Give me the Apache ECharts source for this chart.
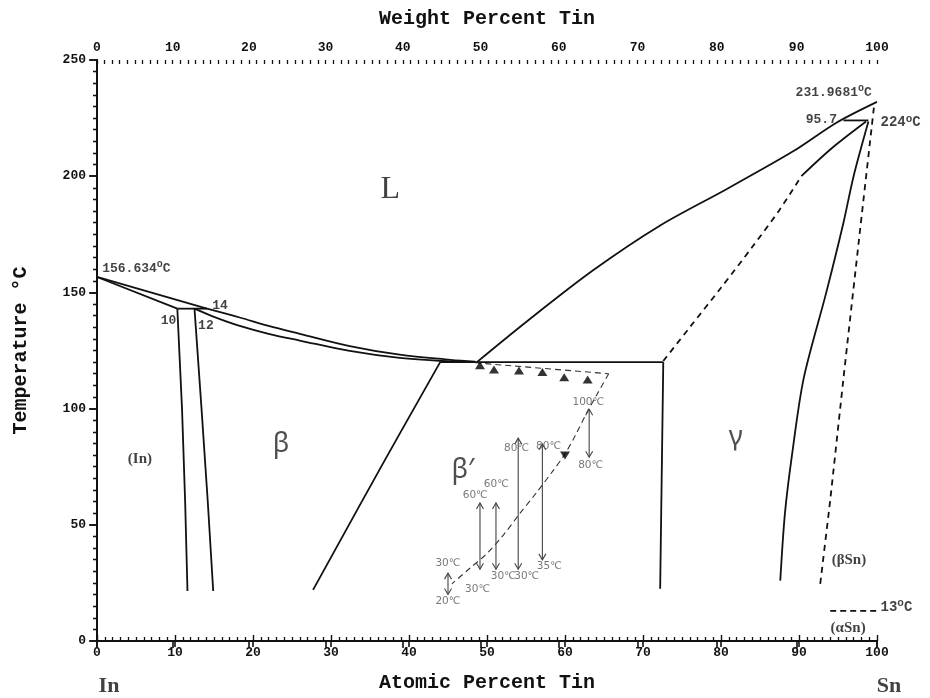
<!DOCTYPE html>
<html><head><meta charset="utf-8">
<script src="https://cdn.jsdelivr.net/npm/echarts@6/dist/echarts.min.js"></script>
<style>html,body{margin:0;padding:0;background:#fff}#c{width:930px;height:698px}</style>
</head><body><div id="c"></div>
<script>
// ---------------- data (atomic % Sn, temperature °C) ----------------
const weightTicks = [0,10,20,30,40,50,60,70,80,90,100];
const weightMinorStep = 1;
const massIn = 114.82, massSn = 118.71;

const inLiquidus = [[0,156.634],[14.1,143.0]];
const inSolidus = [[0,156.634],[10.3,143.0]];
const peritectic143 = [[10.3,143.0],[14.1,143.0]];
const betaLiquidus = [[14.1,143.0],[18.3,139.2],[22,135.6],[26,132.2],[32.4,126.9],[38.8,123.2],[45.3,121.0],[48.5,120.2]];
const betaSolidus = [[12.5,143.0],[15,139.5],[18.3,135.6],[22,132.2],[26,129.3],[32.4,124.8],[38.8,121.8],[45.3,120.3],[48.5,120.0]];
const inSolvus = [[10.3,143.0],[10.9,100],[11.3,60],[11.6,21.5]];
const betaLeft = [[12.5,143.0],[13.4,100],[14.2,60],[14.9,21.5]];
const betaRight = [[44.0,120.0],[36.6,76.0],[27.7,22.0]];
const eutectic120 = [[44.0,120.0],[72.6,120.0]];
const gammaLeft = [[72.6,120.0],[72.2,22.5]];
const snLiquidus = [[48.7,120.0],[55.1,137.5],[63.6,159.5],[72.2,178.8],[80.7,194.4],[89.3,210.8],[94.8,223.0],[100,231.9681]];
const gammaSolidusSolid = [[90.3,200.0],[94.2,212.0],[98.6,223.5]];
const gammaSolidusDashed = [[72.6,120.5],[76,135],[80,152],[84,169.5],[87.5,185.5],[90.3,200.0]];
const gammaRight = [[98.9,223.5],[97.0,200],[95.7,180],[93.5,150],[90.6,113],[89.1,80],[88.2,55],[87.6,26]];
const betaSnSolvus = [[99.6,229.5],[97.7,173],[95.7,113],[94.0,60.6],[92.7,24]];
const peritectic224 = [[95.7,224.0],[98.9,224.0]];
const alphaBeta13 = [[94.0,13.0],[100,13.0]];

// experimental annotations
const triangleLine = [[48.5,119.7],[65.6,115.0]];
const transitionCurve = [[65.6,115.0],[64.1,106.1],[62.8,98.3],[61.3,88.3],[60.0,80.5],[58.5,73.4],[56.4,64.1],[54.2,54.8],[52.1,45.6],[50.0,37.7],[47.8,31.3],[45.5,24.6]];
const upTriangles = [[49.1,118.7],[50.9,116.8],[54.1,116.4],[57.1,115.8],[59.9,113.5],[62.9,112.5]];
const downTriangles = [[60.0,79.8]];
const arrows = [[45.0,29.2,20.0],[49.1,59.4,30.9],[51.15,59.4,30.9],[54.0,87.3,30.9],[57.1,84.8,34.9],[63.1,99.7,79.1]];
const tempLabels = [[45.0,33.5,'30℃'],[45.0,17.1,'20℃'],[48.5,62.7,'60℃'],[48.8,22.2,'30℃'],[51.2,67.6,'60℃'],[52.1,27.8,'30℃'],[53.8,83.0,'80℃'],[55.1,27.8,'30℃'],[57.9,83.6,'80℃'],[58.0,32.1,'35℃'],[63.0,102.6,'100℃'],[63.3,75.5,'80℃']];

// text labels
const phaseLabels = [[23.6,84.6,'β'],[46.9,73.5,'β′'],[81.9,87.6,'γ']];
const liquidLabels = [[37.6,194.4,'L']];
const boldLabels = [[5.5,78.2,'(In)'],[96.4,34.6,'(βSn)'],[96.3,5.6,'(αSn)']];
const pointLabels = [[0.6,160.3,'156.634{s|o}C'],[8.1,138.0,'10'],[12.9,135.5,'12'],[14.7,144.4,'14'],[90.8,224.2,'95.7'],[89.5,235.9,'231.9681{s|o}C']];
const outsideLabels = [[100,223.0,'224{s|o}C'],[100,14.5,'13{s|o}C']];
const endLabels = [[0,0,'In'],[100,0,'Sn']];

// ---------------- helpers ----------------
function wtToAt(w){ const a=w/massSn, b=(100-w)/massIn; return a+b===0?0:100*a/(a+b); }
function atToWt(x){ const a=x*massSn, b=(100-x)*massIn; return 100*a/(a+b); }
const weightMinor = []; for(let w=0; w<=100; w+=weightMinorStep) weightMinor.push(wtToAt(w));

const BLK='#111', MONO='Liberation Mono', SERIF='Liberation Serif';
const tickFont = {fontFamily:MONO, fontWeight:'bold', fontSize:13, color:BLK};
const rich = {s:{fontFamily:MONO,fontWeight:'bold',fontSize:10,color:BLK,padding:[0,0,8,0]}};
const rich14 = {s:{fontFamily:MONO,fontWeight:'bold',fontSize:11,color:BLK,padding:[0,0,8,0]}};

function curve(data, opt){
  opt = opt||{};
  return {type:'line', data:data, xAxisIndex:0, yAxisIndex:0, symbol:'none', showSymbol:false,
    smooth: opt.smooth===undefined?0.35:opt.smooth, silent:true, animation:false,
    lineStyle:{color:opt.color||BLK, width:opt.width||1.8, type:opt.dash||'solid'}, z:opt.z||3};
}
function textSeries(data, label, extra){
  return Object.assign({type:'scatter', data:data, xAxisIndex:0, yAxisIndex:0, symbolSize:1, clip:false,
    itemStyle:{color:'rgba(0,0,0,0)'}, silent:true, animation:false, z:6,
    label:Object.assign({show:true, formatter:p=>p.data[2]}, label)}, extra||{});
}

const chart = echarts.init(document.getElementById('c'), null, {renderer:'canvas'});
const axisLine = {show:true, lineStyle:{color:BLK, width:2}};
const option = {
  backgroundColor:'#fff',
  animation:false,
  grid:{left:97, top:60, width:780, height:585, containLabel:false},
  xAxis:[
    {type:'value', position:'bottom', min:0, max:100, interval:10,
     axisLine:axisLine, axisTick:{show:true, inside:false, length:6, lineStyle:{color:BLK,width:1.6}},
     axisLabel:Object.assign({margin:5}, tickFont), splitLine:{show:false},
     name:'Atomic Percent Tin', nameLocation:'middle', nameGap:32,
     nameTextStyle:{fontFamily:MONO, fontWeight:'bold', fontSize:20, color:BLK}},
    {type:'value', position:'bottom', min:0, max:100, interval:10,
     axisLine:{show:false}, axisTick:{show:true, inside:true, length:6, lineStyle:{color:BLK,width:1.4}},
     minorTick:{show:true, splitNumber:10, length:4, lineStyle:{color:BLK,width:1.3}},
     axisLabel:{show:false}, splitLine:{show:false}},
    {type:'value', position:'top', min:0, max:100,
     axisLine:axisLine,
     axisTick:{show:true, inside:true, length:7, customValues:weightTicks.map(wtToAt), lineStyle:{color:BLK,width:1.6}},
     axisLabel:Object.assign({margin:6, customValues:weightTicks.map(wtToAt), formatter:v=>String(Math.round(atToWt(v)))}, tickFont),
     splitLine:{show:false},
     name:'Weight Percent Tin', nameLocation:'middle', nameGap:31,
     nameTextStyle:{fontFamily:MONO, fontWeight:'bold', fontSize:20, color:BLK}},
    {type:'value', position:'top', min:0, max:100,
     axisLine:{show:false},
     axisTick:{show:true, inside:true, length:4, customValues:weightMinor, lineStyle:{color:BLK,width:1.3}},
     axisLabel:{show:false}, splitLine:{show:false}}
  ],
  yAxis:[
    {type:'value', position:'left', min:0, max:250, interval:50,
     axisLine:axisLine, axisTick:{show:true, inside:false, length:8, lineStyle:{color:BLK,width:1.6}},
     axisLabel:Object.assign({margin:11}, tickFont), splitLine:{show:false},
     name:'Temperature °C', nameLocation:'middle', nameGap:66,
     nameTextStyle:{fontFamily:MONO, fontWeight:'bold', fontSize:20, color:BLK}},
    {type:'value', position:'left', min:0, max:250, interval:50,
     axisLine:{show:false}, axisTick:{show:false},
     minorTick:{show:true, splitNumber:10, length:4, lineStyle:{color:BLK,width:1.3}},
     axisLabel:{show:false}, splitLine:{show:false}},
    {type:'value', position:'right', min:0, max:250, interval:50,
     axisLine:axisLine, axisTick:{show:true, inside:true, length:7, lineStyle:{color:BLK,width:1.5}},
     minorTick:{show:true, splitNumber:10, length:4, lineStyle:{color:BLK,width:1.3}},
     axisLabel:{show:false}, splitLine:{show:false}}
  ],
  series:[
    curve(inLiquidus,{smooth:false}),
    curve(inSolidus,{smooth:false}),
    curve(peritectic143,{smooth:false}),
    curve(betaLiquidus),
    curve(betaSolidus),
    curve(inSolvus,{smooth:false}),
    curve(betaLeft,{smooth:false}),
    curve(betaRight,{smooth:0.4}),
    curve(eutectic120,{smooth:false}),
    curve(gammaLeft,{smooth:false}),
    curve(snLiquidus,{smooth:0.3}),
    curve(gammaSolidusSolid,{smooth:0.3}),
    curve(gammaSolidusDashed,{smooth:0.3, dash:[6,5]}),
    curve(gammaRight,{smooth:0.3}),
    curve(betaSnSolvus,{smooth:0.2, dash:[6,5]}),
    curve(peritectic224,{smooth:false}),
    curve(alphaBeta13,{smooth:false, dash:[6,4]}),
    curve(triangleLine,{smooth:false, dash:[6,4], width:1.1, color:'#333'}),
    curve(transitionCurve,{smooth:0.3, dash:[6,4], width:1.1, color:'#333'}),
    {type:'scatter', data:upTriangles, symbol:'triangle', symbolSize:[10,8], itemStyle:{color:'#000'}, silent:true, z:5},
    {type:'scatter', data:downTriangles, symbol:'triangle', symbolRotate:180, symbolSize:[10,8], itemStyle:{color:'#000'}, silent:true, z:5},
    {type:'custom', data:arrows, xAxisIndex:0, yAxisIndex:0, encode:{x:0, y:[1,2]}, silent:true, z:4,
     renderItem:function(params, api){
       const x=api.value(0), p1=api.coord([x,api.value(1)]), p2=api.coord([x,api.value(2)]);
       const w=3.5, h=6, st={stroke:'#444', lineWidth:1.1, fill:null};
       return {type:'group', children:[
         {type:'line', shape:{x1:p1[0],y1:p1[1],x2:p2[0],y2:p2[1]}, style:st},
         {type:'polyline', shape:{points:[[p1[0]-w,p1[1]+h],[p1[0],p1[1]],[p1[0]+w,p1[1]+h]]}, style:st},
         {type:'polyline', shape:{points:[[p2[0]-w,p2[1]-h],[p2[0],p2[1]],[p2[0]+w,p2[1]-h]]}, style:st}
       ]};
     }},
    textSeries(tempLabels, {position:'inside', fontFamily:'DejaVu Sans', fontSize:10.5, color:'#555'}),
    textSeries(phaseLabels, {position:'inside', fontFamily:'Noto Sans', fontSize:27, color:'#222'}),
    textSeries(liquidLabels, {position:'inside', fontFamily:SERIF, fontSize:32, color:'#111'}),
    textSeries(boldLabels, {position:'inside', fontFamily:SERIF, fontWeight:'bold', fontSize:15, color:BLK}),
    textSeries(pointLabels, {position:'right', distance:0, fontFamily:MONO, fontWeight:'bold', fontSize:13, color:BLK, rich:rich}),
    textSeries(outsideLabels, {position:'right', distance:3, fontFamily:MONO, fontWeight:'bold', fontSize:14, color:BLK, rich:rich14}),
    textSeries(endLabels, {position:'inside', offset:[12,45], fontFamily:SERIF, fontWeight:'bold', fontSize:22, color:BLK})
  ]
};
chart.setOption(option);
</script></body></html>
